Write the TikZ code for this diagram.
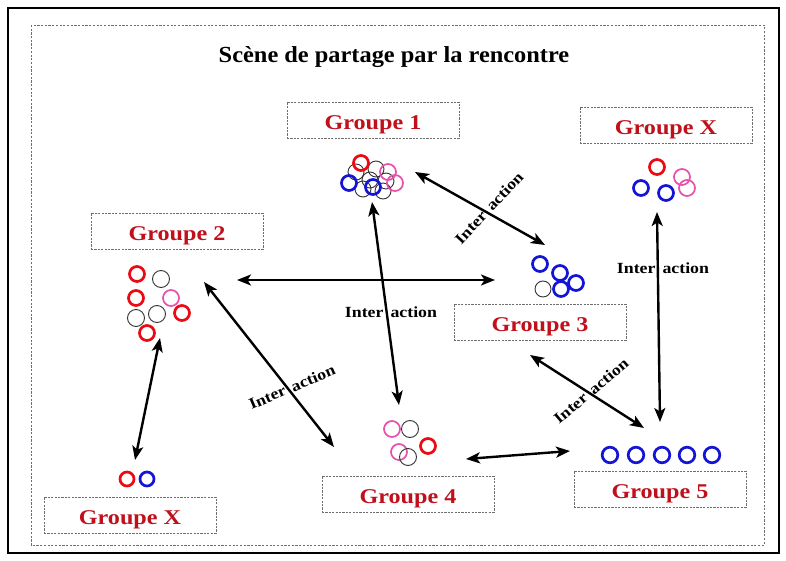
\documentclass[tikz,border=0pt]{standalone}
\usepackage{fontspec}
\setmainfont{Liberation Serif}
\newfontfamily\titlefont[FakeStretch=1.06]{Liberation Serif}
\newfontfamily\grpfont[FakeStretch=1.15]{Liberation Serif}
\usetikzlibrary{arrows.meta}

\definecolor{grpred}{RGB}{192,16,28}
\definecolor{cred}{RGB}{235,10,20}
\definecolor{cblue}{RGB}{20,20,215}
\definecolor{cpink}{RGB}{232,80,170}
\definecolor{boxgray}{RGB}{110,110,110}

\tikzset{
  grpbox/.style={draw=boxgray, line width=0.9pt, dash pattern=on 2.2pt off 1.2pt,
    minimum width=172pt, minimum height=36pt, inner sep=0pt,
    text height=19pt, text depth=0pt,
    text=grpred, font=\grpfont\bfseries\fontsize{21}{24}\selectfont},
  redc/.style={draw=cred, line width=2.7pt},
  bluec/.style={draw=cblue, line width=2.7pt},
  pinkc/.style={draw=cpink, line width=1.7pt},
  blackc/.style={draw=black!80, line width=0.9pt},
  link/.style={{Stealth[length=14pt,width=11pt,inset=3.5pt]}-{Stealth[length=14pt,width=11pt,inset=3.5pt]},
    line width=2.4pt, black},
  interlbl/.style={inner sep=0pt, font=\grpfont\bfseries\fontsize{15.5}{17}\selectfont}
}

\begin{document}
\begin{tikzpicture}[x=1pt,y=-1pt]
\useasboundingbox (0,0) rectangle (786,561);
\fill[white] (0,0) rectangle (786,561);

% frames
\draw[black, line width=1.3pt] (8,8) rectangle (779,553);
\draw[boxgray, line width=0.9pt, dash pattern=on 2.2pt off 1.5pt] (31,25) rectangle (764,545);

% title
\node (title) at (394,57) {\titlefont\bfseries\fontsize{23}{27}\selectfont Scène de partage par la rencontre};

% group labels
\node[grpbox] (lg1) at (373,120) {Groupe 1};
\node[grpbox] (lg2) at (177,231) {Groupe 2};
\node[grpbox] (lgxa) at (666,125) {Groupe X};
\node[grpbox] (lg3) at (540,322) {Groupe 3};
\node[grpbox] (lg4) at (408,494) {Groupe 4};
\node[grpbox] (lg5) at (660,489) {Groupe 5};
\node[grpbox] (lgxb) at (130,515) {Groupe X};

% group 1 members
\foreach \p in {(356,172),(376,169),(386,181),(363,189),(383,191),(370,180)}
  \draw[blackc] \p circle[radius=8];
\draw[redc] (361,163) circle[radius=7.5];
\draw[bluec] (349,183) circle[radius=7.5];
\draw[bluec] (373,187) circle[radius=7.5];
\draw[pinkc] (388,172) circle[radius=8];
\draw[pinkc] (395,183) circle[radius=8];

% group 2 members
\draw[redc] (137,274) circle[radius=7.5];
\draw[blackc] (161,279) circle[radius=8.5];
\draw[redc] (136,298) circle[radius=7.5];
\draw[pinkc] (171,298) circle[radius=8];
\draw[blackc] (136,318) circle[radius=8.5];
\draw[blackc] (157,314) circle[radius=8.5];
\draw[redc] (182,313) circle[radius=7.5];
\draw[redc] (147,333) circle[radius=7.5];

% group X (upper) members
\draw[redc] (657,167) circle[radius=7.5];
\draw[bluec] (641,188) circle[radius=7.5];
\draw[bluec] (666,193) circle[radius=7.5];
\draw[pinkc] (682,177) circle[radius=8];
\draw[pinkc] (687,188) circle[radius=8];

% group 3 members
\draw[blackc] (543,289) circle[radius=8];
\draw[bluec] (540,264) circle[radius=7.5];
\draw[bluec] (560,273) circle[radius=7.5];
\draw[bluec] (576,283) circle[radius=7.5];
\draw[bluec] (561,289) circle[radius=7.5];

% group 4 members
\draw[pinkc] (392,429) circle[radius=8];
\draw[blackc] (410,429) circle[radius=8.5];
\draw[pinkc] (399,452) circle[radius=8];
\draw[blackc] (408,457) circle[radius=8.5];
\draw[redc] (428,446) circle[radius=7.5];

% group 5 members
\foreach \x in {610,636,662,687,712}
  \draw[bluec] (\x,455) circle[radius=7.8];

% group X (lower) members
\draw[redc] (127,479) circle[radius=7];
\draw[bluec] (147,479) circle[radius=7];

% connector ends
\coordinate (g1se) at (415,172);
\coordinate (g3nw) at (545,245);
\coordinate (g1s) at (372,202);
\coordinate (g4n) at (399,405);
\coordinate (g2e) at (237,280);
\coordinate (g3w) at (495,280);
\coordinate (g2se) at (204,282);
\coordinate (g4nw) at (334,447);
\coordinate (g4e) at (466,459);
\coordinate (g5w) at (570,451);
\coordinate (g3s) at (530,355);
\coordinate (g5nw) at (644,428);
\coordinate (gxas) at (657,212);
\coordinate (g5n) at (660,422);
\coordinate (g2s) at (160,338);
\coordinate (gxbn) at (135,460);

% interactions
\draw[link] (g1se) -- (g3nw);
\draw[link] (g1s) -- (g4n);
\draw[link] (g2e) -- (g3w);
\draw[link] (g2se) -- (g4nw);
\draw[link] (g4e) -- (g5w);
\draw[link] (g3s) -- (g5nw);
\draw[link] (gxas) -- (g5n);
\draw[link] (g2s) -- (gxbn);

% interaction labels
\node[interlbl, rotate=47] (i13) at (489,208) {Inter\hspace{0.45em}action};
\node[interlbl] (i14) at (391,312) {Inter\hspace{0.45em}action};
\node[interlbl, rotate=23] (i24) at (292,387) {Inter\hspace{0.45em}action};
\node[interlbl, rotate=40] (i35) at (591,391) {Inter\hspace{0.45em}action};
\node[interlbl] (ix5) at (663,268) {Inter\hspace{0.45em}action};
\end{tikzpicture}
\end{document}
